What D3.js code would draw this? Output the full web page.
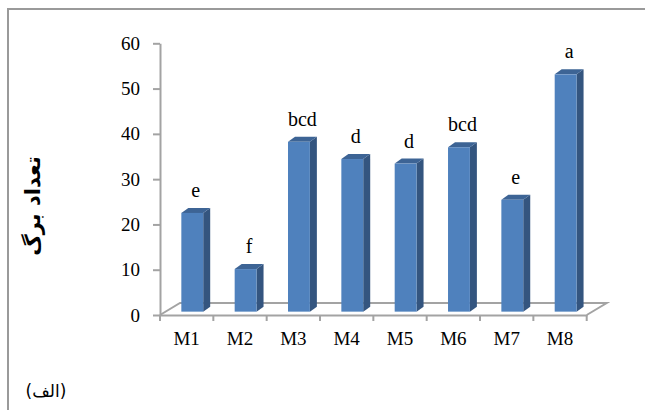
<!DOCTYPE html>
<html>
<head>
<meta charset="utf-8">
<script src="https://cdn.jsdelivr.net/npm/d3@7/dist/d3.min.js"></script>
<style>
  html, body { margin: 0; padding: 0; background: #fff; }
  svg { display: block; }
  .serif { font-family: "Liberation Serif", "Times New Roman", "DejaVu Serif", serif; }
  .arabic { font-family: "DejaVu Sans", "Noto Sans", sans-serif; }
</style>
</head>
<body>
<svg id="chart" width="645" height="410"></svg>
<script>
// Leaf count per treatment with mean-separation letters
const categories = ["M1", "M2", "M3", "M4", "M5", "M6", "M7", "M8"];
const values = [21.8, 9.4, 37.5, 33.7, 32.7, 36.3, 24.7, 52.4];
const letters = ["e", "f", "bcd", "d", "d", "bcd", "e", "a"];
const yTicks = [0, 10, 20, 30, 40, 50, 60];
const yTitle = "تعداد  برگ";
const panelTag = "(الف)";

const svg = d3.select("#chart");
const gridGray = "#a3a3a3";

// Outer frame (left and top edges)
svg.append("path")
  .attr("d", "M8,410 L8,9 L645,9")
  .attr("fill", "none")
  .attr("stroke", "#9a9a9a")
  .attr("stroke-width", 2);

const y = d3.scaleLinear().domain([0, 60]).range([315, 43.3]);
const x = d3.scaleBand().domain(categories).range([160, 586.7]);

// 3D floor depth vector and bar placement within it
const floorDx = 20, floorDy = -12;
const frontFrac = 0.28;
const barDx = 7, barDy = -5;
const barFrac = 0.41;

const x0 = x.range()[0], x1 = x.range()[1], yBase = y(0);

// Floor parallelogram (drawn behind bars)
svg.append("path")
  .attr("d", `M${x0},${yBase} L${x0 + floorDx},${yBase + floorDy} L${x1 + floorDx},${yBase + floorDy} L${x1},${yBase}`)
  .attr("fill", "none")
  .attr("stroke", gridGray)
  .attr("stroke-width", 2);

// Y axis
const yAxis = svg.append("g")
  .attr("transform", `translate(${x0},0)`)
  .call(d3.axisLeft(y).tickValues(yTicks).tickSize(7).tickSizeOuter(0).tickPadding(13));
yAxis.attr("font-family", null);
yAxis.select(".domain").attr("stroke", gridGray).attr("stroke-width", 2);
yAxis.selectAll(".tick line").attr("stroke", gridGray).attr("stroke-width", 2);
yAxis.selectAll("text")
  .attr("class", "serif")
  .attr("font-size", 19)
  .attr("fill", "#000");

// X axis (labels centred on bands, ticks on band boundaries)
const xAxis = svg.append("g")
  .attr("transform", `translate(0,${yBase})`)
  .call(d3.axisBottom(x).tickSize(0).tickSizeOuter(0).tickPadding(17));
xAxis.attr("font-family", null);
xAxis.select(".domain").attr("stroke", gridGray).attr("stroke-width", 2);
xAxis.selectAll("text")
  .attr("class", "serif")
  .attr("font-size", 19)
  .attr("fill", "#000");

const bounds = categories.map(c => x(c)).concat([x1]);
xAxis.selectAll(".bound")
  .data(bounds)
  .join("line")
  .attr("class", "bound")
  .attr("x1", d => d).attr("x2", d => d)
  .attr("y1", 0).attr("y2", 6)
  .attr("stroke", gridGray)
  .attr("stroke-width", 2);

// Bars: front face sits partway into the floor depth
const offX = floorDx * frontFrac, offY = floorDy * frontFrac;
const bw = x.bandwidth() * barFrac;
const barY = v => y(v) + offY;
const barLeft = c => x(c) + x.bandwidth() / 2 - bw / 2 + offX;

const bars = svg.append("g").selectAll("g")
  .data(categories.map((c, i) => ({ c, v: values[i], l: letters[i] })))
  .join("g");

// side face
bars.append("path")
  .attr("d", d => {
    const xr = barLeft(d.c) + bw, yt = barY(d.v), yb = barY(0);
    return `M${xr},${yb} L${xr},${yt} L${xr + barDx},${yt + barDy} L${xr + barDx},${yb + barDy} Z`;
  })
  .attr("fill", "#34557f");

// top face
bars.append("path")
  .attr("d", d => {
    const xl = barLeft(d.c), yt = barY(d.v);
    return `M${xl},${yt} L${xl + bw},${yt} L${xl + bw + barDx},${yt + barDy} L${xl + barDx},${yt + barDy} Z`;
  })
  .attr("fill", "#3d6495");

// front face
bars.append("rect")
  .attr("x", d => barLeft(d.c))
  .attr("y", d => barY(d.v))
  .attr("width", bw)
  .attr("height", d => barY(0) - barY(d.v))
  .attr("fill", "#4f81bd");

// Significance letters above each bar
bars.append("text")
  .attr("class", "serif")
  .attr("x", d => barLeft(d.c) + bw / 2 + barDx / 2)
  .attr("y", d => barY(d.v) - 16)
  .attr("text-anchor", "middle")
  .attr("font-size", 20)
  .attr("fill", "#000")
  .text(d => d.l);

// Y axis title
svg.append("text")
  .attr("class", "arabic")
  .attr("transform", "translate(40,206) rotate(-90)")
  .attr("text-anchor", "middle")
  .attr("direction", "rtl")
  .attr("font-weight", "bold")
  .attr("font-size", 21)
  .attr("fill", "#000")
  .text(yTitle);

// Panel tag
svg.append("text")
  .attr("class", "arabic")
  .attr("x", 46)
  .attr("y", 397)
  .attr("text-anchor", "middle")
  .attr("direction", "rtl")
  .attr("font-size", 17)
  .attr("fill", "#000")
  .text(panelTag);
</script>
</body>
</html>
